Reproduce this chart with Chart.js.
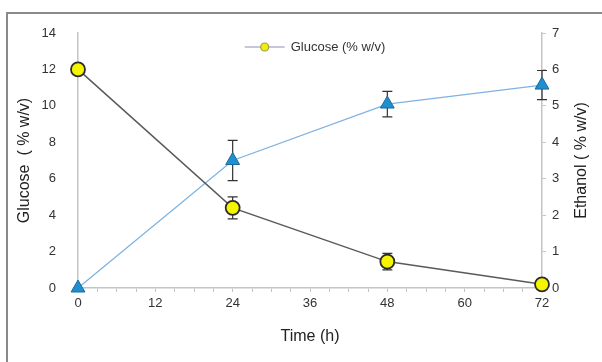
<!DOCTYPE html>
<html lang="en">
<head>
    <meta charset="UTF-8">
    <title>Glucose and Ethanol</title>
    <script src="https://cdn.jsdelivr.net/npm/chart.js"></script>
    <style>
        html, body { margin: 0; padding: 0; background: #fff; }
        #wrap { position: relative; width: 602px; height: 362px; }
        #frame {
            position: absolute; left: 6px; top: 12px; right: 0; bottom: 0;
            border-top: 2px solid #8a8a8a; border-left: 2px solid #8a8a8a;
            pointer-events: none;
        }
    </style>
</head>
<body>
    <div id="wrap">
        <canvas id="chart" width="602" height="362"></canvas>
        <div id="frame"></div>
    </div>

    <script>
        // data
        const hours = [0, 24, 48, 72];
        const glucose = [12.0, 4.4, 1.45, 0.2];
        const glucoseErr = [0, 0.6, 0.45, 0.1];
        const ethanol = [0, 3.5, 5.05, 5.57];
        const ethanolErr = [0, 0.55, 0.35, 0.4];

        const toPoints = (ys) => ys.map((y, i) => ({ x: hours[i], y: y }));

        const font = 'Liberation Sans, Arial, sans-serif';
        const axisGrey = '#c4c4c4';

        // error bars drawn through the chart's own scales
        const errorBars = {
            id: 'errorBars',
            beforeDatasetsDraw(chart) {
                const ctx = chart.ctx;
                const x = chart.scales.x;
                const sets = [
                    { vals: glucose, errs: glucoseErr, scale: chart.scales.y },
                    { vals: ethanol, errs: ethanolErr, scale: chart.scales.y2 }
                ];
                ctx.save();
                ctx.strokeStyle = '#333';
                ctx.lineWidth = 1.2;
                sets.forEach(s => {
                    s.vals.forEach((v, i) => {
                        if (!s.errs[i]) return;
                        const px = x.getPixelForValue(hours[i]);
                        const top = s.scale.getPixelForValue(v + s.errs[i]);
                        const bot = s.scale.getPixelForValue(v - s.errs[i]);
                        ctx.beginPath();
                        ctx.moveTo(px, top); ctx.lineTo(px, bot);
                        ctx.moveTo(px - 5, top); ctx.lineTo(px + 5, top);
                        ctx.moveTo(px - 5, bot); ctx.lineTo(px + 5, bot);
                        ctx.stroke();
                    });
                });
                ctx.restore();
            }
        };

        // legend inside the plot (glucose only) and the right axis title read bottom-up
        const extras = {
            id: 'extras',
            afterDraw(chart) {
                const ctx = chart.ctx;
                const area = chart.chartArea;
                const ds = chart.data.datasets[0];
                ctx.save();

                ctx.font = '13px ' + font;
                const label = ds.label;
                const tw = ctx.measureText(label).width;
                const total = 40 + 6 + tw;
                const lx = (area.left + area.right) / 2 - total / 2 + 5;
                const ly = area.top + 14;
                ctx.strokeStyle = '#b9b2d0';
                ctx.lineWidth = 1.5;
                ctx.beginPath();
                ctx.moveTo(lx, ly); ctx.lineTo(lx + 40, ly);
                ctx.stroke();
                ctx.fillStyle = '#eeee10';
                ctx.strokeStyle = '#a0a040';
                ctx.lineWidth = 1.2;
                ctx.beginPath();
                ctx.arc(lx + 20, ly, 4, 0, Math.PI * 2);
                ctx.fill(); ctx.stroke();
                ctx.fillStyle = '#333';
                ctx.textAlign = 'left';
                ctx.textBaseline = 'middle';
                ctx.fillText(label, lx + 46, ly);

                ctx.translate(582, (area.top + area.bottom) / 2);
                ctx.rotate(-Math.PI / 2);
                ctx.font = '16px ' + font;
                ctx.fillStyle = '#222';
                ctx.textAlign = 'center';
                ctx.fillText('Ethanol ( % w/v)', 0, 0);
                ctx.restore();
            }
        };

        const ctx = document.getElementById('chart').getContext('2d');
        const chart = new Chart(ctx, {
            type: 'scatter',
            data: {
                datasets: [
                    {
                        label: 'Glucose (% w/v)',
                        data: toPoints(glucose),
                        yAxisID: 'y',
                        showLine: true,
                        borderColor: '#5a5a5a',
                        borderWidth: 1.5,
                        pointStyle: 'circle',
                        pointRadius: 7,
                        pointBackgroundColor: '#f5f500',
                        pointBorderColor: '#2b2b2b',
                        pointBorderWidth: 1.8,
                        clip: false,
                        order: 1
                    },
                    {
                        label: 'Ethanol (% w/v)',
                        data: toPoints(ethanol),
                        yAxisID: 'y2',
                        showLine: true,
                        borderColor: '#7fb2e0',
                        borderWidth: 1.3,
                        pointStyle: 'triangle',
                        pointRadius: 8,
                        pointBackgroundColor: '#1f8fd0',
                        pointBorderColor: '#1a6a9c',
                        pointBorderWidth: 1,
                        clip: false,
                        order: 2
                    }
                ]
            },
            options: {
                responsive: false,
                animation: false,
                layout: { padding: { top: 33, left: 0, right: 0, bottom: 0 } },
                scales: {
                    x: {
                        type: 'linear',
                        min: 0,
                        max: 72,
                        afterFit: (s) => { s.height = 74; },
                        border: { color: axisGrey, width: 1.5 },
                        grid: { drawOnChartArea: false, color: axisGrey, tickLength: 4 },
                        ticks: {
                            stepSize: 3,
                            autoSkip: false,
                            maxRotation: 0,
                            padding: 4,
                            color: '#333',
                            font: { family: font, size: 13 },
                            callback: (v) => (v % 12 === 0 ? v : '')
                        },
                        title: {
                            display: true,
                            text: 'Time (h)',
                            color: '#222',
                            font: { family: font, size: 16 },
                            padding: { top: 0, bottom: 16 }
                        }
                    },
                    y: {
                        position: 'left',
                        min: 0,
                        max: 14,
                        afterFit: (s) => { s.width = 78; },
                        border: { color: axisGrey, width: 1.5 },
                        grid: { display: false },
                        ticks: {
                            stepSize: 2,
                            padding: 14,
                            color: '#333',
                            font: { family: font, size: 13 }
                        },
                        title: {
                            display: true,
                            text: 'Glucose  ( % w/v)',
                            color: '#222',
                            font: { family: font, size: 16 },
                            padding: { top: 15, bottom: 0 }
                        }
                    },
                    y2: {
                        position: 'right',
                        min: 0,
                        max: 7,
                        afterFit: (s) => { s.width = 60; },
                        border: { color: axisGrey, width: 1.5 },
                        grid: { drawOnChartArea: false, color: axisGrey, tickLength: 4 },
                        ticks: {
                            stepSize: 1,
                            padding: 6,
                            color: '#333',
                            font: { family: font, size: 13 }
                        }
                    }
                },
                plugins: {
                    tooltip: { enabled: false },
                    legend: { display: false }
                }
            },
            plugins: [errorBars, extras]
        });
    </script>
</body>
</html>
